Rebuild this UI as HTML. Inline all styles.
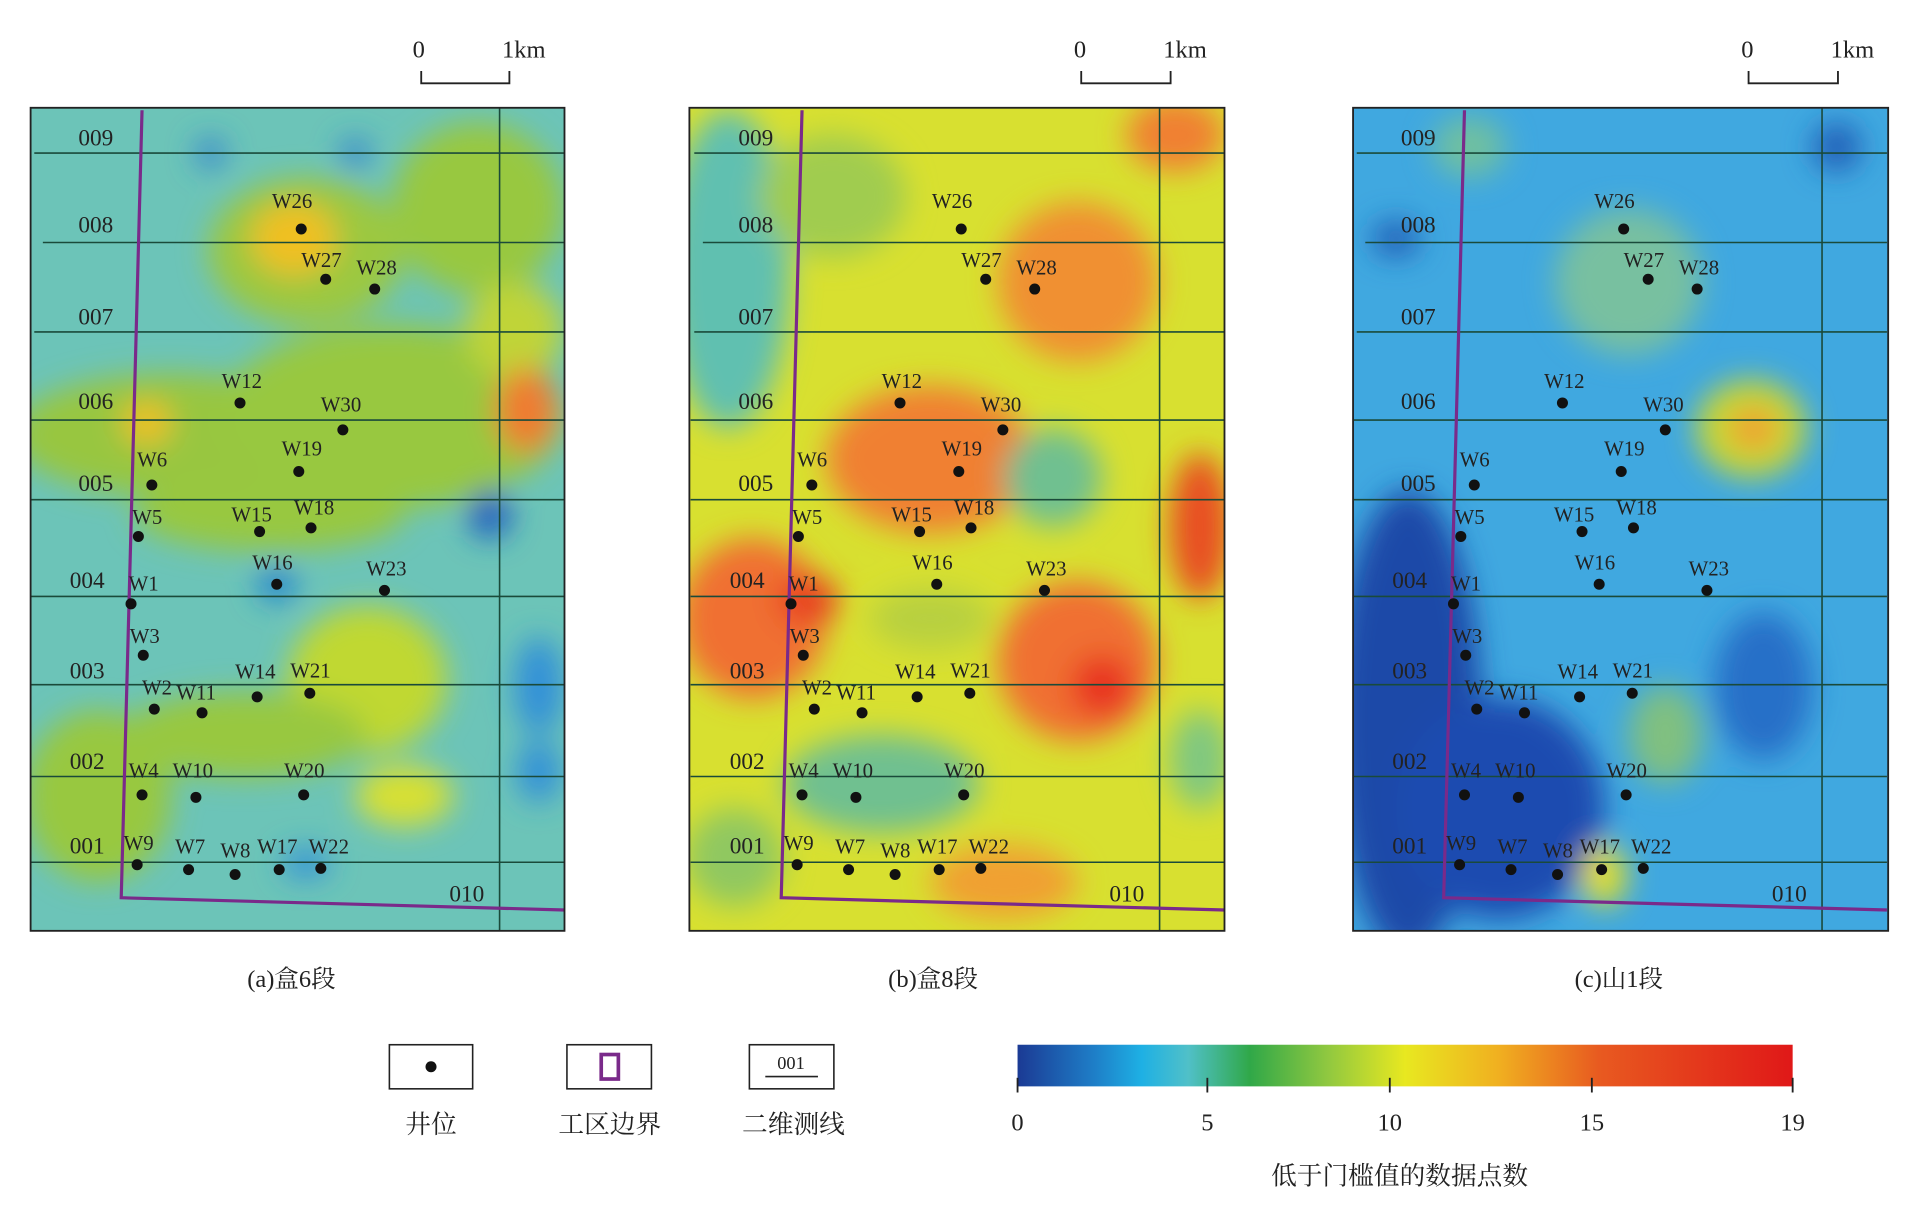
<!DOCTYPE html>
<html><head><meta charset="utf-8"><style>
html,body{margin:0;padding:0;background:#fff;}
svg{display:block}
text{font-family:"Liberation Serif","Noto Serif CJK SC",serif;fill:#222}
</style></head><body>
<svg width="1920" height="1226" viewBox="0 0 1568 1001" preserveAspectRatio="none" xmlns="http://www.w3.org/2000/svg">
<defs>
<filter id="bl" x="-20%" y="-20%" width="140%" height="140%"><feGaussianBlur stdDeviation="12"/></filter>
<clipPath id="ca"><rect x="25" y="88" width="436" height="672"/></clipPath>
<clipPath id="cb"><rect x="563" y="88" width="437" height="672"/></clipPath>
<clipPath id="cc"><rect x="1105" y="88" width="437" height="672"/></clipPath>
<linearGradient id="cbar" x1="0" x2="1">
<stop offset="0" stop-color="#1b3a94"/><stop offset="0.1" stop-color="#1e7fc8"/><stop offset="0.16" stop-color="#1eb0e4"/>
<stop offset="0.22" stop-color="#50c0c8"/><stop offset="0.3" stop-color="#30a848"/><stop offset="0.4" stop-color="#90c840"/>
<stop offset="0.5" stop-color="#e8e820"/><stop offset="0.62" stop-color="#f0b020"/><stop offset="0.75" stop-color="#e85a20"/>
<stop offset="1" stop-color="#e01818"/></linearGradient>
</defs>

<!-- Panel A -->
<g clip-path="url(#ca)">
<rect x="25" y="88" width="436" height="672" fill="#6cc4b8"/>
<g filter="url(#bl)">
<ellipse cx="250" cy="205" rx="80" ry="60" fill="#9cc840"/>
<ellipse cx="240" cy="195" rx="35" ry="30" fill="#f0c020"/>
<ellipse cx="390" cy="170" rx="70" ry="70" fill="#98c840"/>
<ellipse cx="140" cy="355" rx="130" ry="50" fill="#98c640"/>
<ellipse cx="320" cy="340" rx="140" ry="75" fill="#98c840"/>
<ellipse cx="420" cy="270" rx="40" ry="40" fill="#c0d438"/>
<ellipse cx="430" cy="335" rx="25" ry="35" fill="#f07a30"/>
<ellipse cx="120" cy="345" rx="20" ry="18" fill="#f0c020"/>
<ellipse cx="220" cy="420" rx="110" ry="30" fill="#98c840"/>
<ellipse cx="300" cy="555" rx="65" ry="60" fill="#c0d830"/>
<ellipse cx="200" cy="600" rx="100" ry="35" fill="#98c840"/>
<ellipse cx="80" cy="650" rx="60" ry="70" fill="#98c840"/>
<ellipse cx="330" cy="650" rx="40" ry="25" fill="#d8e030"/>
<ellipse cx="400" cy="420" rx="18" ry="20" fill="#2060c0"/>
<ellipse cx="172" cy="125" rx="12" ry="12" fill="#3080d0"/>
<ellipse cx="290" cy="125" rx="12" ry="12" fill="#3080d0"/>
<ellipse cx="226" cy="477" rx="16" ry="14" fill="#2080d0"/>
<ellipse cx="440" cy="560" rx="20" ry="40" fill="#3090d8"/>
<ellipse cx="440" cy="630" rx="18" ry="25" fill="#3090d8"/>
<ellipse cx="250" cy="705" rx="20" ry="12" fill="#3090d8"/>
</g>
</g>
<!-- Panel B -->
<g clip-path="url(#cb)">
<rect x="563" y="88" width="437" height="672" fill="#d8e030"/>
<g filter="url(#bl)">
<ellipse cx="595" cy="220" rx="50" ry="130" fill="#60c0b0"/>
<ellipse cx="680" cy="160" rx="60" ry="50" fill="#a0cc50"/>
<ellipse cx="880" cy="230" rx="65" ry="65" fill="#f09030"/>
<ellipse cx="960" cy="110" rx="40" ry="30" fill="#f08030"/>
<ellipse cx="760" cy="375" rx="85" ry="60" fill="#f08030"/>
<ellipse cx="860" cy="390" rx="40" ry="40" fill="#70c090"/>
<ellipse cx="980" cy="430" rx="25" ry="60" fill="#e85020"/>
<ellipse cx="615" cy="505" rx="60" ry="65" fill="#f07030"/>
<ellipse cx="660" cy="490" rx="25" ry="20" fill="#e84020"/>
<ellipse cx="880" cy="540" rx="65" ry="65" fill="#f07030"/>
<ellipse cx="900" cy="560" rx="25" ry="25" fill="#e83020"/>
<ellipse cx="760" cy="505" rx="50" ry="25" fill="#b8d040"/>
<ellipse cx="720" cy="640" rx="80" ry="40" fill="#70c090"/>
<ellipse cx="600" cy="700" rx="40" ry="40" fill="#90c860"/>
<ellipse cx="820" cy="720" rx="60" ry="30" fill="#f0a030"/>
<ellipse cx="980" cy="620" rx="25" ry="40" fill="#80c880"/>
</g>
</g>
<!-- Panel C -->
<g clip-path="url(#cc)">
<rect x="1105" y="88" width="437" height="672" fill="#40a8e0"/>
<g filter="url(#bl)">
<ellipse cx="1150" cy="590" rx="60" ry="190" fill="#1a48a8"/>
<ellipse cx="1225" cy="660" rx="85" ry="90" fill="#1a4cb0"/>
<ellipse cx="1330" cy="230" rx="60" ry="60" fill="#78c0a0"/>
<ellipse cx="1430" cy="350" rx="45" ry="40" fill="#c8d830"/>
<ellipse cx="1432" cy="350" rx="20" ry="18" fill="#f0a030"/>
<ellipse cx="1360" cy="600" rx="30" ry="40" fill="#80c080"/>
<ellipse cx="1310" cy="715" rx="18" ry="25" fill="#e8e020"/>
<ellipse cx="1200" cy="120" rx="30" ry="25" fill="#70c0a0"/>
<ellipse cx="1500" cy="120" rx="20" ry="20" fill="#2060b8"/>
<ellipse cx="1140" cy="195" rx="20" ry="15" fill="#2060b8"/>
<ellipse cx="1440" cy="560" rx="40" ry="60" fill="#2870c8"/>
</g>
</g>

<!-- grid lines & labels per panel -->
<g id="gr" stroke="#1a4a3a" stroke-width="1.3" fill="none">
<line x1="28" y1="125" x2="461" y2="125"/><line x1="35" y1="198" x2="461" y2="198"/>
<line x1="28" y1="271" x2="461" y2="271"/><line x1="25" y1="343" x2="461" y2="343"/>
<line x1="25" y1="408" x2="461" y2="408"/><line x1="25" y1="487" x2="461" y2="487"/>
<line x1="25" y1="559" x2="461" y2="559"/><line x1="25" y1="634" x2="461" y2="634"/>
<line x1="25" y1="704" x2="461" y2="704"/><line x1="408" y1="88" x2="408" y2="760"/>
</g>
<use href="#gr" x="539"/><use href="#gr" x="1080"/>
<g id="bd" stroke="#7a2a8a" stroke-width="2.6" fill="none"><polyline points="116,90 99,733 461,743"/></g>
<use href="#bd" x="539"/><use href="#bd" x="1080"/>

<g id="lab" font-size="19">
<text x="64" y="119">009</text><text x="64" y="190">008</text><text x="64" y="265">007</text>
<text x="64" y="334">006</text><text x="64" y="401">005</text><text x="57" y="480">004</text>
<text x="57" y="554">003</text><text x="57" y="628">002</text><text x="57" y="697">001</text>
<text x="367" y="736">010</text>
<g fill="#111">
<circle cx="246" cy="187" r="4.5"/><circle cx="266" cy="228" r="4.5"/><circle cx="306" cy="236" r="4.5"/>
<circle cx="196" cy="329" r="4.5"/><circle cx="280" cy="351" r="4.5"/><circle cx="244" cy="385" r="4.5"/>
<circle cx="124" cy="396" r="4.5"/><circle cx="113" cy="438" r="4.5"/><circle cx="212" cy="434" r="4.5"/>
<circle cx="254" cy="431" r="4.5"/><circle cx="107" cy="493" r="4.5"/><circle cx="226" cy="477" r="4.5"/>
<circle cx="314" cy="482" r="4.5"/><circle cx="117" cy="535" r="4.5"/><circle cx="126" cy="579" r="4.5"/>
<circle cx="165" cy="582" r="4.5"/><circle cx="210" cy="569" r="4.5"/><circle cx="253" cy="566" r="4.5"/>
<circle cx="116" cy="649" r="4.5"/><circle cx="160" cy="651" r="4.5"/><circle cx="248" cy="649" r="4.5"/>
<circle cx="112" cy="706" r="4.5"/><circle cx="154" cy="710" r="4.5"/><circle cx="192" cy="714" r="4.5"/>
<circle cx="228" cy="710" r="4.5"/><circle cx="262" cy="709" r="4.5"/>
</g>
<g font-size="17">
<text x="222" y="170">W26</text><text x="246" y="218">W27</text><text x="291" y="224">W28</text>
<text x="181" y="317">W12</text><text x="262" y="336">W30</text><text x="230" y="372">W19</text>
<text x="112" y="381">W6</text><text x="108" y="428">W5</text><text x="189" y="426">W15</text>
<text x="240" y="420">W18</text><text x="105" y="482">W1</text><text x="206" y="465">W16</text>
<text x="299" y="470">W23</text><text x="106" y="525">W3</text><text x="116" y="567">W2</text>
<text x="144" y="571">W11</text><text x="192" y="554">W14</text><text x="237" y="553">W21</text>
<text x="105" y="635">W4</text><text x="141" y="635">W10</text><text x="232" y="635">W20</text>
<text x="101" y="694">W9</text><text x="143" y="697">W7</text><text x="180" y="700">W8</text>
<text x="210" y="697">W17</text><text x="252" y="697">W22</text>
</g>
</g>
<use href="#lab" x="539"/><use href="#lab" x="1080"/>

<g fill="none" stroke="#222" stroke-width="1.5">
<rect x="25" y="88" width="436" height="672"/><rect x="563" y="88" width="437" height="672"/><rect x="1105" y="88" width="437" height="672"/>
<polyline points="344,58 344,68 416,68 416,58"/><polyline points="883,58 883,68 956,68 956,58"/><polyline points="1428,58 1428,68 1501,68 1501,58"/>
</g>
<g font-size="20">
<text x="337" y="47">0</text><text x="410" y="47">1km</text>
<text x="877" y="47">0</text><text x="950" y="47">1km</text>
<text x="1422" y="47">0</text><text x="1495" y="47">1km</text>
<text x="238" y="806" text-anchor="middle">(a)盒6段</text>
<text x="762" y="806" text-anchor="middle">(b)盒8段</text>
<text x="1322" y="806" text-anchor="middle">(c)山1段</text>
</g>

<!-- legend -->
<g fill="none" stroke="#222" stroke-width="1.3">
<rect x="318" y="853" width="68" height="36"/><rect x="463" y="853" width="69" height="36"/><rect x="612" y="853" width="69" height="36"/>
<line x1="625" y1="879" x2="668" y2="879"/>
</g>
<circle cx="352" cy="871" r="4.5" fill="#111"/>
<rect x="491" y="861" width="14" height="20" fill="none" stroke="#7a2a8a" stroke-width="3"/>
<text x="646" y="873" font-size="15" text-anchor="middle">001</text>
<g font-size="21">
<text x="352" y="925" text-anchor="middle">井位</text>
<text x="498" y="925" text-anchor="middle">工区边界</text>
<text x="648" y="925" text-anchor="middle">二维测线</text>
</g>
<rect x="831" y="853" width="633" height="34" fill="url(#cbar)"/>
<g stroke="#222" stroke-width="1.5"><line x1="831" y1="880" x2="831" y2="892"/><line x1="986" y1="880" x2="986" y2="892"/><line x1="1135" y1="880" x2="1135" y2="892"/><line x1="1300" y1="880" x2="1300" y2="892"/><line x1="1464" y1="880" x2="1464" y2="892"/></g>
<g font-size="20" text-anchor="middle">
<text x="831" y="923">0</text><text x="986" y="923">5</text><text x="1135" y="923">10</text><text x="1300" y="923">15</text><text x="1464" y="923">19</text>
<text x="1143" y="967" font-size="21">低于门槛值的数据点数</text>
</g>
</svg>
</body></html>
